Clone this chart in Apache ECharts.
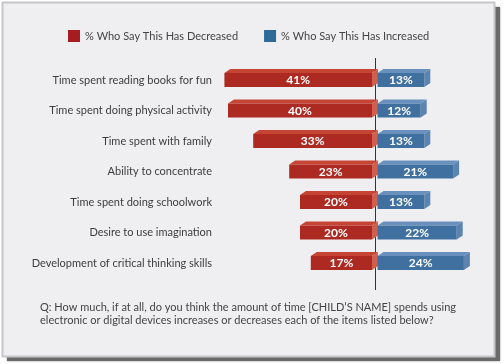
<!DOCTYPE html>
<html><head><meta charset="utf-8">
<script src="https://cdn.jsdelivr.net/npm/echarts@6/dist/echarts.min.js"></script>
<style>html,body{margin:0;padding:0;background:#fff}#c{width:504px;height:364px}</style>
</head><body><div id="c"></div>
<script>
const categories = [
  'Time spent reading books for fun',
  'Time spent doing physical activity',
  'Time spent with family',
  'Ability to concentrate',
  'Time spent doing schoolwork',
  'Desire to use imagination',
  'Development of critical thinking skills'
];
const decreased = [41, 40, 33, 23, 20, 20, 17];
const increased = [13, 12, 13, 21, 13, 22, 24];
const seriesNames = ['% Who Say This Has Decreased', '% Who Say This Has Increased'];
const note = 'Q: How much, if at all, do you think the amount of time [CHILD\u2019S NAME] spends using\nelectronic or digital devices increases or decreases each of the items listed below?';

const FONT = 'Lato';
const RED = {front: '#ad2a22', top: '#c64434', side: '#d0604d', legend: '#a51d23'};
const BLUE = {front: '#40709f', top: '#6a91bd', side: '#5b84b1', legend: '#2f6a99'};

function make3d(dir, pal) {
  return function (params, api) {
    const idx = api.value(0);
    const v = api.value(1);
    const c0 = api.coord([0, idx]);
    const c1 = api.coord([dir * v, idx]);
    const off = dir < 0 ? -3 : 2.5;
    let x1 = Math.min(c0[0], c1[0]) + off;
    let x2 = Math.max(c0[0], c1[0]) + off;
    const h = 14, dx = 6, dy = -4;
    const yT = c0[1] - h / 2, yB = c0[1] + h / 2;
    return {
      type: 'group',
      children: [
        {type: 'polygon', shape: {points: [[x1, yT], [x2, yT], [x2 + dx, yT + dy], [x1 + dx, yT + dy]]}, style: {fill: pal.top}},
        {type: 'polygon', shape: {points: [[x2, yT], [x2 + dx, yT + dy], [x2 + dx, yB + dy], [x2, yB]]}, style: {fill: pal.side}},
        {type: 'rect', shape: {x: x1, y: yT, width: x2 - x1, height: h}, style: {fill: pal.front}},
        {type: 'text', style: {x: (x1 + x2) / 2, y: c0[1] + 0.5, text: v + '%', fill: '#fff', font: 'bold 12px ' + FONT, align: 'center', verticalAlign: 'middle'}}
      ]
    };
  };
}

const frame = [
  {type: 'rect', z: -10, shape: {x: 7, y: 7, width: 493, height: 354}, style: {fill: '#6a6a6a', shadowBlur: 2, shadowColor: 'rgba(0,0,0,0.4)'}},
  {type: 'rect', z: -9, shape: {x: 2.5, y: 2.5, width: 492, height: 354}, style: {fill: '#efeef1', stroke: '#c6c6c8', lineWidth: 2}}
];

const chart = echarts.init(document.getElementById('c'), null, {renderer: 'canvas'});
chart.setOption({
  animation: false,
  backgroundColor: '#ffffff',
  textStyle: {fontFamily: FONT},
  graphic: frame,
  legend: {
    left: 68, top: 30, padding: 0, itemWidth: 12, itemHeight: 12, itemGap: 26,
    icon: 'rect',
    textStyle: {fontSize: 11, color: '#444', fontFamily: FONT},
    data: seriesNames
  },
  title: {
    text: note, left: 40, top: 301, padding: 0,
    textStyle: {fontSize: 11, fontWeight: 'normal', color: '#444', fontFamily: FONT, lineHeight: 13}
  },
  grid: {left: 213, width: 270, top: 64.75, height: 213.5, outerBoundsMode: 'none', containLabel: false},
  xAxis: {type: 'value', min: -45, max: 30, show: false},
  yAxis: {
    type: 'category', data: categories, inverse: true,
    axisLine: {show: false}, axisTick: {show: false}, splitLine: {show: false},
    axisLabel: {margin: 1, fontSize: 11, color: '#3d3d3d', fontFamily: FONT}
  },
  series: [
    {name: seriesNames[0], type: 'custom', itemStyle: {color: RED.legend}, renderItem: make3d(-1, RED),
     encode: {x: 1, y: 0}, data: decreased.map((v, i) => [i, v])},
    {name: seriesNames[1], type: 'custom', itemStyle: {color: BLUE.legend}, renderItem: make3d(1, BLUE),
     encode: {x: 1, y: 0}, data: increased.map((v, i) => [i, v])}
  ]
});
const zx = chart.convertToPixel({xAxisIndex: 0}, 0);
chart.setOption({graphic: frame.concat([
  {type: 'line', z: 1, shape: {x1: Math.round(zx) + 0.5, y1: 58, x2: Math.round(zx) + 0.5, y2: 290}, style: {stroke: '#333', lineWidth: 1}}
])});
</script></body></html>
